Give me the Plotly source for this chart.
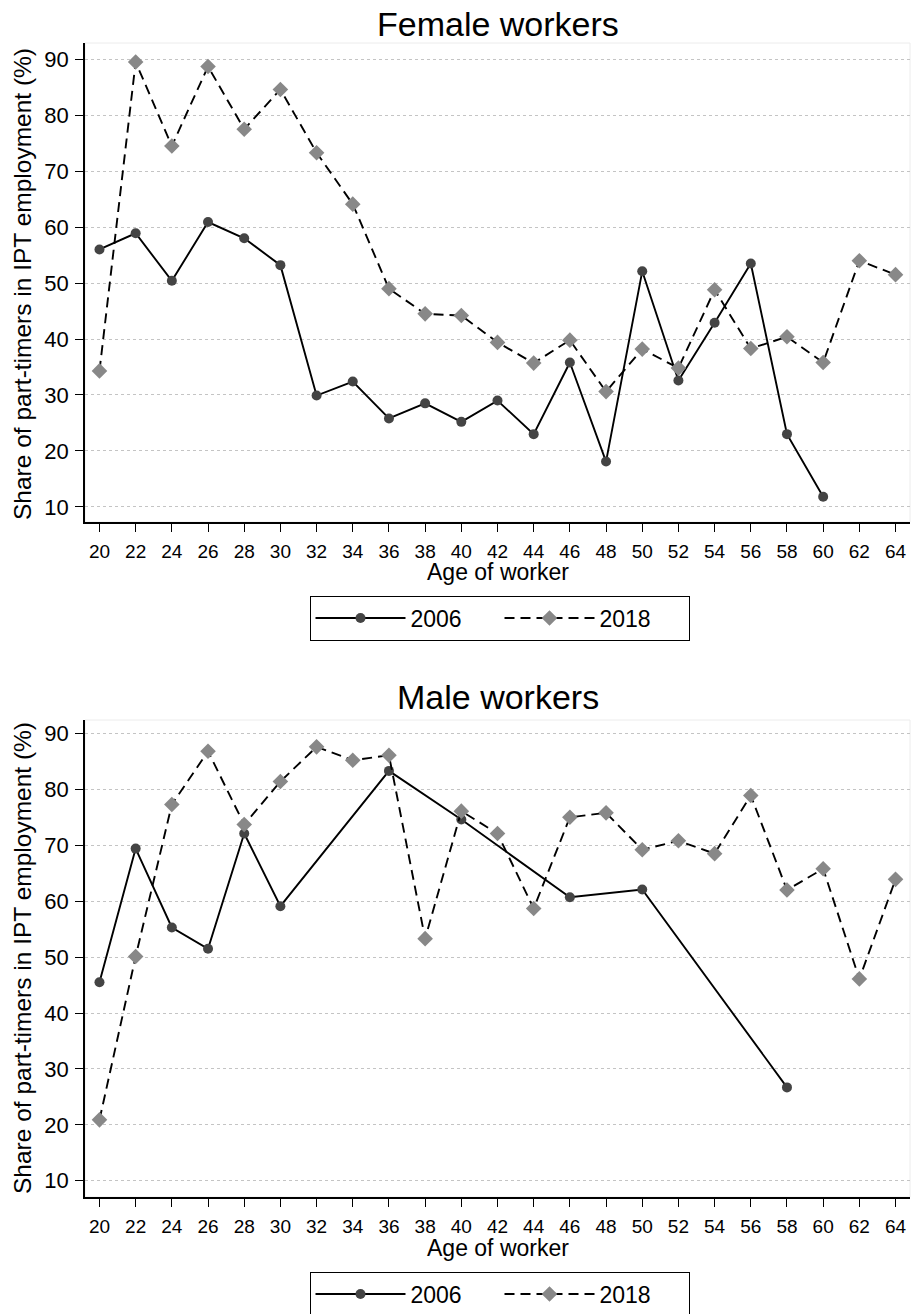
import plotly.graph_objects as go

ages = list(range(20, 66, 2))
tick_vals_y = [10, 20, 30, 40, 50, 60, 70, 80, 90]

female_2006 = [56.0, 58.9, 50.4, 60.9, 58.0, 53.2, 29.9, 32.4, 25.8, 28.5, 25.2, 29.0,
               23.0, 35.8, 18.1, 52.1, 32.6, 42.9, 53.5, 23.0, 11.8, None, None]
female_2018 = [34.3, 89.5, 74.5, 88.7, 77.5, 84.6, 73.3, 64.1, 49.0, 44.5, 44.2, 39.4,
               35.7, 39.8, 30.6, 38.2, 34.8, 48.8, 38.3, 40.4, 35.8, 54.0, 51.5]
male_2006 = [45.5, 69.4, 55.3, 51.5, 72.1, 59.1, None, None, 83.3, None, 74.6, None,
             None, 60.7, None, 62.1, None, None, None, 26.7, None, None, None]
male_2018 = [20.9, 50.1, 77.3, 86.8, 73.7, 81.4, 87.6, 85.2, 86.1, 53.3, 76.1, 72.1,
             58.7, 75.0, 75.8, 69.2, 70.8, 68.5, 78.9, 62.0, 65.8, 46.1, 63.9]

FONT = "Liberation Sans, Arial, Helvetica, sans-serif"
W, H = 914, 1314

def py(px):
    return 1 - px / H

fig = go.Figure()

def add_pair(y06, y18, xa, ya, leg):
    fig.add_trace(go.Scatter(
        x=ages, y=y06, name="2006", mode="lines+markers", connectgaps=True,
        xaxis=xa, yaxis=ya, legend=leg, showlegend=True,
        line=dict(color="black", width=1.9),
        marker=dict(symbol="circle", size=10, color="#444444")))
    fig.add_trace(go.Scatter(
        x=ages, y=y18, name="2018", mode="lines+markers", connectgaps=True,
        xaxis=xa, yaxis=ya, legend=leg, showlegend=True,
        line=dict(color="black", width=1.9, dash="10px,6px"),
        marker=dict(symbol="diamond", size=12, color="#888888")))

add_pair(female_2006, female_2018, "x", "y", "legend")
add_pair(male_2006, male_2018, "x2", "y2", "legend2")

xdom = [85 / W, 910 / W]
xcommon = dict(
    range=[19.2, 64.8], tickmode="array", tickvals=ages, ticks="outside",
    ticklen=8, tickwidth=1, tickcolor="black", showline=True, linecolor="black",
    linewidth=1.5, showgrid=False, zeroline=False, automargin=False,
    tickfont=dict(family=FONT, size=19, color="black"), ticklabelstandoff=3,
    domain=xdom)
ycommon = dict(
    tickmode="array", tickvals=tick_vals_y, ticks="outside", ticklen=8,
    tickwidth=1, tickcolor="black", showline=True, linecolor="black",
    linewidth=1.5, showgrid=True, gridcolor="#c4c4c4", gridwidth=1,
    griddash="dot", zeroline=False, automargin=False,
    tickfont=dict(family=FONT, size=22, color="black"), ticklabelstandoff=2)

legcommon = dict(orientation="h", x=499.5 / W, xanchor="center", yanchor="middle",
                 bordercolor="black", borderwidth=1, bgcolor="white",
                 font=dict(family=FONT, size=23, color="black"),
                 itemwidth=90, entrywidth=84, traceorder="normal")

fig.update_layout(
    width=W, height=H, plot_bgcolor="white", paper_bgcolor="white",
    margin=dict(l=0, r=0, t=0, b=0, autoexpand=False),
    xaxis=dict(**xcommon, anchor="y"),
    yaxis=dict(**ycommon, range=[7.3, 92.9], domain=[py(522), py(43)], anchor="x"),
    xaxis2=dict(**xcommon, anchor="y2"),
    yaxis2=dict(**ycommon, range=[7.1, 92.4], domain=[py(1197), py(720)], anchor="x2"),
    legend=dict(**legcommon, y=py(618)),
    legend2=dict(**legcommon, y=py(1294)),
    showlegend=True,
)

ylab = "Share of part-timers in IPT employment (%)"
annots = [
    dict(text="Female workers", x=498 / W, y=py(24), font=dict(size=34)),
    dict(text="Male workers", x=498 / W, y=py(697), font=dict(size=34)),
    dict(text="Age of worker", x=498 / W, y=py(572), font=dict(size=23)),
    dict(text="Age of worker", x=498 / W, y=py(1248), font=dict(size=23)),
    dict(text=ylab, x=22 / W, y=py(284), textangle=-90, font=dict(size=24.5)),
    dict(text=ylab, x=22 / W, y=py(958), textangle=-90, font=dict(size=24.5)),
]
for a in annots:
    f = a.pop("font")
    fig.add_annotation(xref="paper", yref="paper", showarrow=False,
                       xanchor="center", yanchor="middle",
                       font=dict(family=FONT, color="black", **f), **a)

for xr, yr in (("x domain", "y domain"), ("x2 domain", "y2 domain")):
    fig.add_shape(type="rect", xref=xr, yref=yr, x0=0, x1=1, y0=0, y1=1,
                  line=dict(color="#ececec", width=1), layer="below")

fig.write_html("out.html",
               config={"displayModeBar": False},
               post_script="document.body.style.margin='0px';"
                           "document.body.style.overflow='hidden';")
